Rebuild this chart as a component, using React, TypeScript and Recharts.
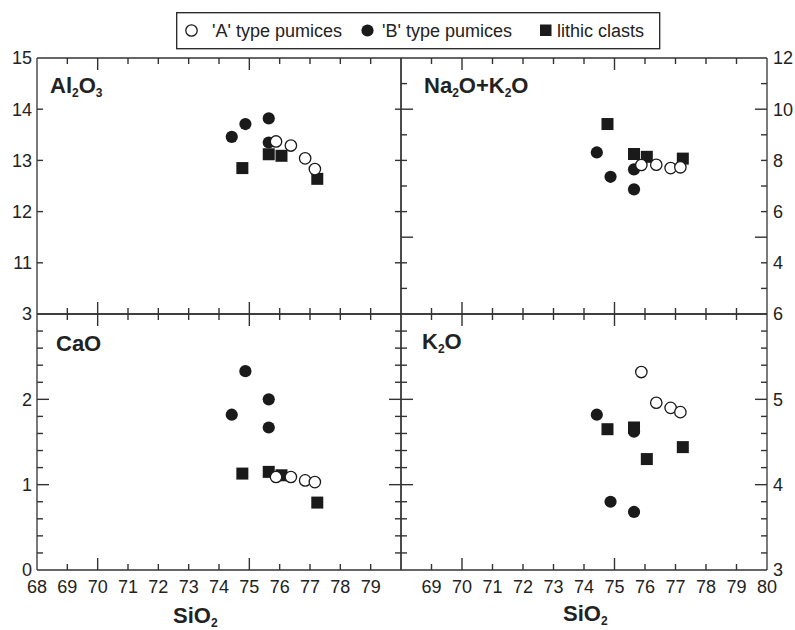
import { ScatterChart, Scatter, XAxis, YAxis, Legend } from 'recharts'

const W = 795
const H = 630
const INK = '#1a1a1a'
const FRAME = '#333'
const FONT = '"Liberation Sans", Arial, sans-serif'

// SiO2 (wt%) for each group
const SIO2_A = [75.88, 76.37, 76.84, 77.16]
const SIO2_B = [74.42, 74.87, 75.64, 75.64]
const SIO2_L = [74.77, 75.64, 76.06, 77.24]

const AL2O3_A = [13.37, 13.29, 13.04, 12.83]
const AL2O3_B = [13.46, 13.71, 13.82, 13.35]
const AL2O3_L = [12.85, 13.12, 13.09, 12.64]

const ALK_A = [7.82, 7.83, 7.7, 7.73]
const ALK_B = [8.31, 7.36, 7.65, 6.87]
const ALK_L = [9.42, 8.25, 8.14, 8.07]

const CAO_A = [1.09, 1.09, 1.05, 1.03]
const CAO_B = [1.82, 2.33, 2.0, 1.67]
const CAO_L = [1.13, 1.15, 1.11, 0.79]

const K2O_A = [5.32, 4.96, 4.9, 4.85]
const K2O_B = [4.82, 3.8, 4.62, 3.68]
const K2O_L = [4.65, 4.67, 4.3, 4.44]

// axis ticks
const X_DOMAIN = [68, 80]
const X_ALL = [68, 69, 70, 71, 72, 73, 74, 75, 76, 77, 78, 79, 80]
const X_MINOR = [69, 71, 72, 73, 74, 76, 77, 78, 79]
const X_MAJOR = [70, 75]
const X_LABELS_LEFT = [68, 69, 70, 71, 72, 73, 74, 75, 76, 77, 78, 79]
const X_LABELS_RIGHT = [69, 70, 71, 72, 73, 74, 75, 76, 77, 78, 79, 80]

const AL_ALL = [10, 11, 12, 13, 14, 15]
const AL_LABELS = [11, 12, 13, 14, 15]
const AL_MINOR = [11, 12, 13, 14]
const ALK_ALL = [2, 3, 4, 5, 6, 7, 8, 9, 10, 11, 12]
const ALK_LABELS = [4, 6, 8, 10, 12]
const ALK_MINOR = [3, 4, 5, 6, 7, 8, 9, 10, 11]
const ALK_MAJOR = [5, 10]
const CAO_ALL = [0, 0.2, 0.4, 0.6, 0.8, 1, 1.2, 1.4, 1.6, 1.8, 2, 2.2, 2.4, 2.6, 2.8, 3]
const CAO_LABELS = [0, 1, 2, 3]
const CAO_MINOR = [0.2, 0.4, 0.6, 0.8, 1, 1.2, 1.4, 1.6, 1.8, 2, 2.2, 2.4, 2.6, 2.8]
const CAO_MAJOR = [1, 2]
const K2O_ALL = [3, 3.2, 3.4, 3.6, 3.8, 4, 4.2, 4.4, 4.6, 4.8, 5, 5.2, 5.4, 5.6, 5.8, 6]
const K2O_LABELS = [3, 4, 5, 6]
const K2O_MINOR = [3.2, 3.4, 3.6, 3.8, 4, 4.2, 4.4, 4.6, 4.8, 5, 5.2, 5.4, 5.6, 5.8]
const K2O_MAJOR = [4, 5]

const pts = (xs: number[], ys: number[]) => xs.map((x, i) => ({ x, y: ys[i] }))
const edge = (xs: number[], y: number) => xs.map((x) => ({ x, y }))

const OpenDot = (p: any) => (
  <circle cx={p.cx} cy={p.cy} r={5.7} fill="#fff" stroke={INK} strokeWidth={1.3} />
)
const FilledDot = (p: any) => <circle cx={p.cx} cy={p.cy} r={6.1} fill={INK} />
const SquareMark = (p: any) => (
  <rect x={p.cx - 6} y={p.cy - 6} width={12} height={12} fill={INK} />
)
// inward x tick marks placed on the top/bottom frame
const vTick = (dir: number, len: number) => (p: any) => (
  <path d={`M${p.cx},${p.cy}L${p.cx},${p.cy + dir * len}`} stroke={FRAME} strokeWidth={1.4} fill="none" />
)

const frameLine = { stroke: FRAME, strokeWidth: 1.3 }

// y tick renderer: inward tick lines (short/long) plus outward labels
function makeTick(side: string, minor: number[], major: number[], labels: number[] | null) {
  return (p: any) => {
    const v = Number(p.payload.value)
    const x = Number(p.x)
    const y = Number(p.y)
    const len = major.includes(v) ? 12 : minor.includes(v) ? 6 : 0
    let x2 = x
    if (side === 'left') x2 = x + len
    if (side === 'right') x2 = x - len
    const showLabel = labels !== null && labels.includes(v)
    const common = { fontSize: 18, fill: '#222', fontFamily: FONT }
    let t = null
    if (showLabel && side === 'bottom') t = <text x={x} y={y + 23} textAnchor="middle" {...common}>{v}</text>
    if (showLabel && side === 'left') t = <text x={x - 5} y={y + 6.4} textAnchor="end" {...common}>{v}</text>
    if (showLabel && side === 'right') t = <text x={x + 6} y={y + 6.4} textAnchor="start" {...common}>{v}</text>
    return (
      <g>
        {len > 0 && side !== 'bottom' && (
          <path d={`M${x},${y}L${x2},${y}`} stroke={FRAME} strokeWidth={1.4} fill="none" />
        )}
        {t}
      </g>
    )
  }
}

function LegendBox() {
  const t = { fontSize: 18, fill: '#222', fontFamily: FONT }
  return (
    <svg width={486} height={38} style={{ display: 'block' }}>
      <rect x={0.7} y={0.7} width={483} height={36} fill="#fff" stroke="#222" strokeWidth={1.3} />
      <circle cx={15.5} cy={18.5} r={5.7} fill="#fff" stroke={INK} strokeWidth={1.3} />
      <text x={36} y={24.5} {...t}>'A' type pumices</text>
      <circle cx={191.5} cy={18.5} r={6.1} fill={INK} />
      <text x={206} y={24.5} {...t}>'B' type pumices</text>
      <rect x={364} y={12.5} width={11.5} height={11.5} fill={INK} />
      <text x={381} y={24.5} {...t}>lithic clasts</text>
    </svg>
  )
}

type Pt = { x: number; y: number }
type PanelProps = {
  box: { left: number; right: number; top: number; bottom: number }
  yDomain: number[]
  yAll: number[]
  yLabels: number[]
  yMinor: number[]
  yMajor: number[]
  labelSide: 'left' | 'right'
  xLabels: number[] | null
  a: Pt[]
  b: Pt[]
  l: Pt[]
  children?: any
  legend?: boolean
}

function Panel({ box, yDomain, yAll, yLabels, yMinor, yMajor, labelSide, xLabels, a, b, l, children, legend }: PanelProps) {
  // axes take 1px each; margins compensate so the plot box is exact
  const margin = { top: box.top - 1, left: box.left - 1, right: W - box.right - 1, bottom: H - box.bottom - 1 }
  const [yMin, yMax] = yDomain
  return (
    <div style={{ position: 'absolute', left: 0, top: 0 }}>
      <ScatterChart width={W} height={H} margin={margin}>
        <XAxis xAxisId="xb" orientation="bottom" type="number" dataKey="x" domain={X_DOMAIN} allowDataOverflow height={1} interval={0} ticks={X_ALL} tickLine={false} tickSize={0} tickMargin={0} axisLine={frameLine} tick={makeTick('bottom', [], [], xLabels)} />
        <XAxis xAxisId="xt" orientation="top" type="number" dataKey="x" domain={X_DOMAIN} allowDataOverflow height={1} interval={0} ticks={X_ALL} tickLine={false} tick={false} axisLine={frameLine} />
        <YAxis yAxisId="yl" orientation="left" type="number" dataKey="y" domain={yDomain} allowDataOverflow width={1} interval={0} ticks={yAll} tickLine={false} tickSize={0} tickMargin={0} axisLine={frameLine} tick={makeTick('left', yMinor, yMajor, labelSide === 'left' ? yLabels : null)} />
        <YAxis yAxisId="yr" orientation="right" type="number" dataKey="y" domain={yDomain} allowDataOverflow width={1} interval={0} ticks={yAll} tickLine={false} tickSize={0} tickMargin={0} axisLine={frameLine} tick={makeTick('right', yMinor, yMajor, labelSide === 'right' ? yLabels : null)} />

        {/* x tick marks on the frame */}
        <Scatter data={edge(X_MINOR, yMin)} xAxisId="xb" yAxisId="yl" shape={vTick(-1, 6)} legendType="none" isAnimationActive={false} />
        <Scatter data={edge(X_MAJOR, yMin)} xAxisId="xb" yAxisId="yl" shape={vTick(-1, 12)} legendType="none" isAnimationActive={false} />
        <Scatter data={edge(X_MINOR, yMax)} xAxisId="xb" yAxisId="yl" shape={vTick(1, 6)} legendType="none" isAnimationActive={false} />
        <Scatter data={edge(X_MAJOR, yMax)} xAxisId="xb" yAxisId="yl" shape={vTick(1, 12)} legendType="none" isAnimationActive={false} />

        <Scatter name="'B' type pumices" data={b} xAxisId="xb" yAxisId="yl" shape={FilledDot} isAnimationActive={false} />
        <Scatter name="lithic clasts" data={l} xAxisId="xb" yAxisId="yl" shape={SquareMark} isAnimationActive={false} />
        <Scatter name="'A' type pumices" data={a} xAxisId="xb" yAxisId="yl" shape={OpenDot} isAnimationActive={false} />

        {legend && (
          <Legend
            layout="horizontal"
            align="center"
            verticalAlign="middle"
            content={() => <LegendBox />}
            wrapperStyle={{ position: 'absolute', left: 176, top: 12, width: 486, height: 38 }}
          />
        )}
        {children}
      </ScatterChart>
    </div>
  )
}

const titleStyle = { fontSize: 22, fontWeight: 'bold' as const, fill: '#222', fontFamily: FONT }
const sub = 12

export default function App() {
  return (
    <div style={{ position: 'absolute', left: 0, top: 0, width: W, height: H, background: '#fff', fontFamily: FONT }}>
      <Panel box={{ left: 37, right: 401, top: 58, bottom: 314 }} yDomain={[10, 15]} yAll={AL_ALL} yLabels={AL_LABELS} yMinor={AL_MINOR} yMajor={[]} labelSide="left" xLabels={null} a={pts(SIO2_A, AL2O3_A)} b={pts(SIO2_B, AL2O3_B)} l={pts(SIO2_L, AL2O3_L)} legend>
        <text x={50} y={93} {...titleStyle}>
          Al<tspan fontSize={sub} dy={4}>2</tspan>
          <tspan dy={-4}>O</tspan>
          <tspan fontSize={sub} dy={4}>3</tspan>
        </text>
      </Panel>
      <Panel box={{ left: 401, right: 767, top: 58, bottom: 314 }} yDomain={[2, 12]} yAll={ALK_ALL} yLabels={ALK_LABELS} yMinor={ALK_MINOR} yMajor={ALK_MAJOR} labelSide="right" xLabels={null} a={pts(SIO2_A, ALK_A)} b={pts(SIO2_B, ALK_B)} l={pts(SIO2_L, ALK_L)}>
        <text x={424} y={93} {...titleStyle}>
          Na<tspan fontSize={sub} dy={4}>2</tspan>
          <tspan dy={-4}>O+K</tspan>
          <tspan fontSize={sub} dy={4}>2</tspan>
          <tspan dy={-4}>O</tspan>
        </text>
      </Panel>
      <Panel box={{ left: 37, right: 401, top: 314, bottom: 570 }} yDomain={[0, 3]} yAll={CAO_ALL} yLabels={CAO_LABELS} yMinor={CAO_MINOR} yMajor={CAO_MAJOR} labelSide="left" xLabels={X_LABELS_LEFT} a={pts(SIO2_A, CAO_A)} b={pts(SIO2_B, CAO_B)} l={pts(SIO2_L, CAO_L)}>
        <text x={56} y={351} {...titleStyle}>CaO</text>
        <text x={173} y={623} {...titleStyle}>
          SiO<tspan fontSize={sub} dy={4}>2</tspan>
        </text>
      </Panel>
      <Panel box={{ left: 401, right: 767, top: 314, bottom: 570 }} yDomain={[3, 6]} yAll={K2O_ALL} yLabels={K2O_LABELS} yMinor={K2O_MINOR} yMajor={K2O_MAJOR} labelSide="right" xLabels={X_LABELS_RIGHT} a={pts(SIO2_A, K2O_A)} b={pts(SIO2_B, K2O_B)} l={pts(SIO2_L, K2O_L)}>
        <text x={422} y={349} {...titleStyle}>
          K<tspan fontSize={sub} dy={4}>2</tspan>
          <tspan dy={-4}>O</tspan>
        </text>
        <text x={563} y={621} {...titleStyle}>
          SiO<tspan fontSize={sub} dy={4}>2</tspan>
        </text>
      </Panel>
    </div>
  )
}
